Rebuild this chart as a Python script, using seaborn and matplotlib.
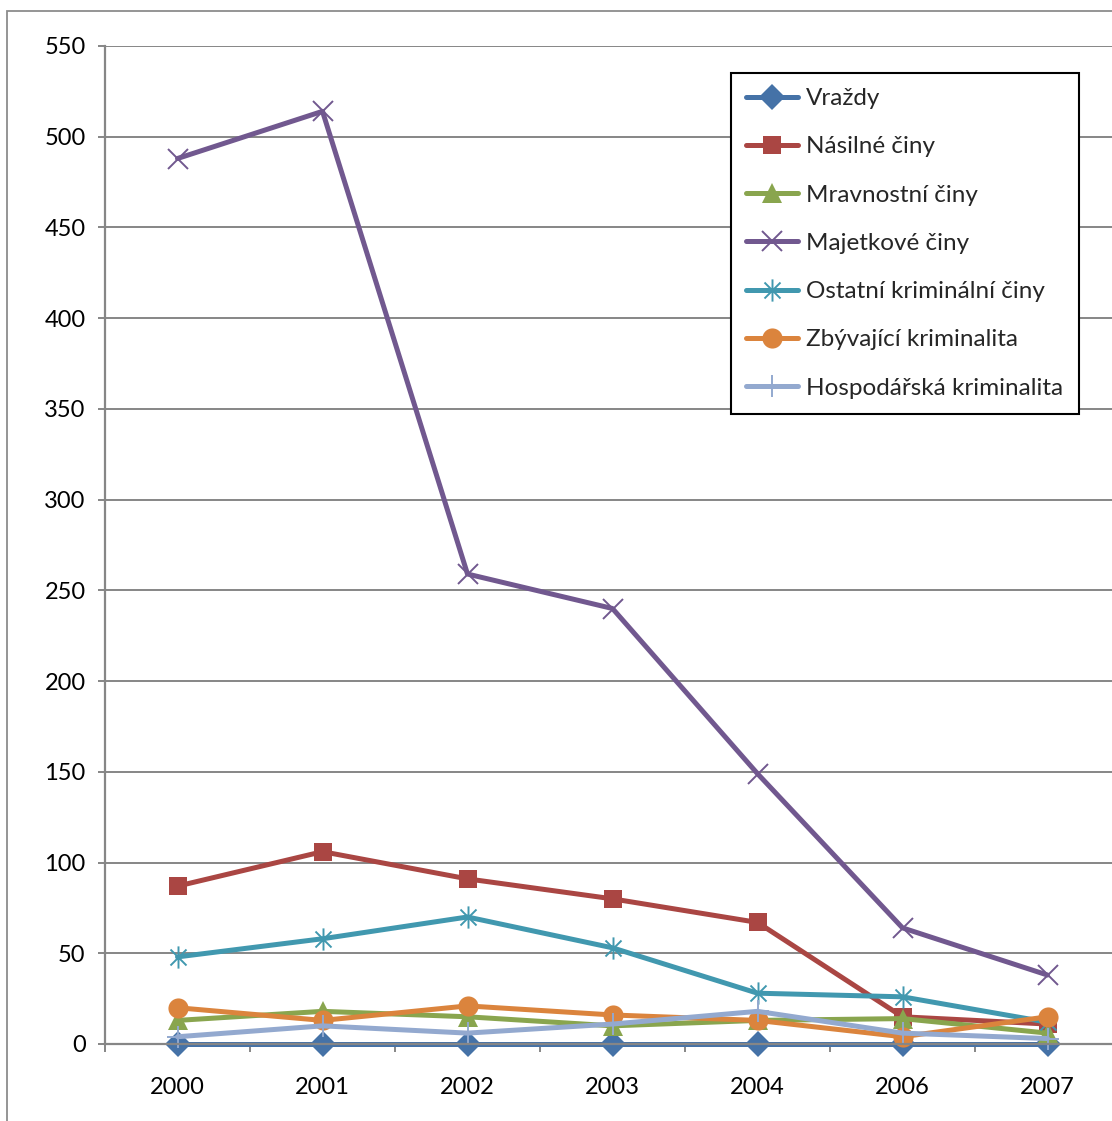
import matplotlib
matplotlib.use("Agg")
import matplotlib.pyplot as plt
import seaborn as sns
import numpy as np
import pandas as pd
from matplotlib.path import Path
from matplotlib.patches import Rectangle

years = ["2000", "2001", "2002", "2003", "2004", "2006", "2007"]
vrazdy = [0, 0, 0, 0, 0, 0, 0]
nasilne = [87, 106, 91, 80, 67, 15, 11]
mravnostni = [13, 18, 15, 10, 13, 14, 6]
majetkove = [488, 514, 259, 240, 149, 64, 38]
ostatni = [48, 58, 70, 53, 28, 26, 12]
zbyvajici = [20, 13, 21, 16, 13, 4, 15]
hospodarska = [4, 10, 6, 11, 18, 6, 3]

series_names = ["Vraždy", "Násilné činy", "Mravnostní činy", "Majetkové činy",
                "Ostatní kriminální činy", "Zbývající kriminalita", "Hospodářská kriminalita"]
series_vals = [vrazdy, nasilne, mravnostni, majetkove, ostatni, zbyvajici, hospodarska]
colors = ["#4572A7", "#AA4643", "#89A54E", "#71588F", "#4198AF", "#DB843D", "#93A9CF"]

asterisk = Path([(0, -1), (0, 1), (-0.72, -0.72), (0.72, 0.72), (-0.72, 0.72), (0.72, -0.72)],
                [Path.MOVETO, Path.LINETO, Path.MOVETO, Path.LINETO, Path.MOVETO, Path.LINETO])
markers = ["D", "s", "^", "x", asterisk, "o", "+"]
msizes = [13, 13.5, 14, 14, 16, 14.5, 16]
filled = [True, True, True, False, False, True, False]

sns.set_style("white")
plt.rcParams['font.family'] = ['Lato', 'DejaVu Sans']

fig = plt.figure(figsize=(11.12, 11.21), dpi=100)
W, H = 1112, 1121
ax = fig.add_axes([105 / W, 1 - 1044 / H, (1120 - 105) / W, (1044 - 46) / H])

# outer border
fig.patches.append(Rectangle((7 / W, -0.1), 1.2, 1.1 - 11 / H,
                             transform=fig.transFigure, fill=False,
                             edgecolor="#8c8c8c", lw=1.3))

x = np.arange(len(years))
for name, vals, c, m, ms, f in zip(series_names, series_vals, colors, markers, msizes, filled):
    df = pd.DataFrame({"x": x, "y": vals})
    kw = dict(markerfacecolor=c, markeredgecolor=c)
    kw["markeredgewidth"] = 0 if f else 1.4
    sns.lineplot(data=df, x="x", y="y", ax=ax, color=c, lw=3.6, marker=m,
                 markersize=ms, label=name, clip_on=False, **kw)

ax.set_xlim(-0.5, 6.5)
ax.set_ylim(0, 550)
ax.set_yticks(np.arange(0, 551, 50))
ax.set_xticks(x)
ax.set_xticklabels(years)
ax.set_xticks(np.arange(-0.5, 7, 1), minor=True)
ax.set_xlabel("")
ax.set_ylabel("")
ax.yaxis.grid(True, color="#868686", lw=1.4)
ax.set_axisbelow(True)
for s in ["top", "right"]:
    ax.spines[s].set_visible(False)
for s in ["left", "bottom"]:
    ax.spines[s].set_color("#868686")
    ax.spines[s].set_linewidth(1.6)
ax.tick_params(axis="y", which="major", length=5, width=1.4, color="#868686",
               labelsize=17, labelcolor="black", pad=9, left=True)
ax.tick_params(axis="x", which="major", length=0, labelsize=17, labelcolor="black", pad=24)
ax.tick_params(axis="x", which="minor", length=6, width=1.4, color="#868686", bottom=True)

leg = ax.legend(loc="upper left", bbox_to_anchor=(731 / W, 1 - 73 / H),
                bbox_transform=fig.transFigure, fontsize=17.5, frameon=True,
                fancybox=False, shadow=False, handlelength=2.15, handletextpad=0.33,
                labelspacing=1.12, borderpad=0.62, borderaxespad=0)
leg.get_frame().set_edgecolor("black")
leg.get_frame().set_linewidth(1.5)
leg.get_frame().set_alpha(1)

fig.savefig("out.png", dpi=100)
